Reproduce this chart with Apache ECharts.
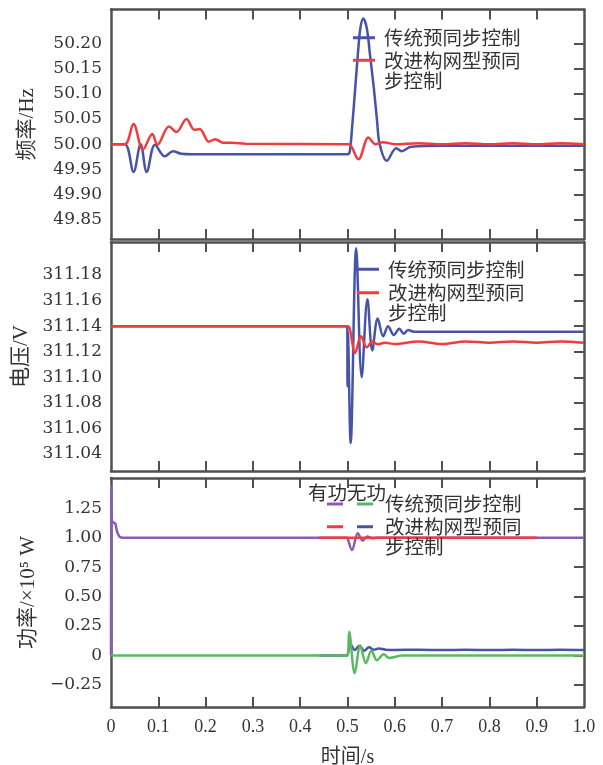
<!DOCTYPE html>
<html><head><meta charset="utf-8">
<script src="https://cdn.jsdelivr.net/npm/echarts@6/dist/echarts.min.js"></script>
<style>html,body{margin:0;padding:0;background:#fff}#c{width:603px;height:765px}</style>
</head><body><div id="c"></div>
<script>
// ---------- tick values / labels ----------
const xTickValues = [0.1, 0.2, 0.3, 0.4, 0.5, 0.6, 0.7, 0.8, 0.9];
const xLabelValues = [0, 0.1, 0.2, 0.3, 0.4, 0.5, 0.6, 0.7, 0.8, 0.9, 1.0];
const freqTicks = [49.85, 49.90, 49.95, 50.00, 50.05, 50.10, 50.15, 50.20];
const voltTicks = [311.04, 311.06, 311.08, 311.10, 311.12, 311.14, 311.16, 311.18];
const powerTicks = [-0.25, 0, 0.25, 0.50, 0.75, 1.00, 1.25];

// ---------- legend names ----------
const nameTrad = '传统预同步控制';
const nameImpr = '改进构网型预同步控制';
const nameP_Trad = '有功-传统预同步控制';
const nameQ_Trad = '无功-传统预同步控制';
const nameP_Impr = '有功-改进构网型预同步控制';
const nameQ_Impr = '无功-改进构网型预同步控制';

// ---------- frequency (Hz) ----------
const freqTradT = [0, 0.029, 0.0476, 0.0626, 0.0755, 0.093, 0.1138, 0.1312, 0.1486, 0.17, 0.5, 0.5047, 0.5096, 0.5163, 0.5218, 0.5272, 0.5333, 0.5408, 0.5476, 0.5557, 0.5626, 0.568, 0.583, 0.603, 0.6145, 0.6347, 0.7, 0.8, 0.9, 1.0];
const freqTradV = [50.00, 50.00, 49.945, 50.00, 49.945, 49.999, 49.976, 49.986, 49.981, 49.980, 49.980, 49.985, 50.032, 50.111, 50.177, 50.23, 50.249, 50.23, 50.177, 50.111, 50.045, 50.00, 49.967, 49.992, 49.986, 49.995, 49.997, 49.997, 49.997, 49.997];
const freqImprT = [0, 0.0293, 0.0476, 0.0674, 0.0874, 0.0983, 0.1226, 0.1382, 0.1597, 0.1761, 0.1875, 0.2067, 0.2205, 0.2366, 0.2566, 0.2848, 0.5, 0.5035, 0.5231, 0.5443, 0.5592, 0.575, 0.6, 0.65, 0.7, 0.75, 0.8, 0.85, 0.9, 0.95, 1.0];
const freqImprV = [50.00, 50.00, 50.040, 49.989, 50.020, 49.999, 50.035, 50.024, 50.050, 50.0285, 50.030, 50.005, 50.010, 50.003, 50.003, 50.001, 50.00, 50.00, 49.970, 50.013, 50.00, 50.004, 50.000, 50.002, 50.000, 50.002, 50.000, 50.002, 50.000, 50.002, 50.000];

// ---------- voltage (V) ----------
const voltTradT = [0, 0.4995, 0.5, 0.5008, 0.5067, 0.5184, 0.530, 0.5422, 0.5524, 0.5639, 0.5755, 0.5857, 0.598, 0.6094, 0.619, 0.628, 0.64, 0.7, 0.8, 0.9, 1.0];
const voltTradV = [311.14, 311.14, 311.093, 311.135, 311.0486, 311.201, 311.100, 311.161, 311.121, 311.146, 311.132, 311.140, 311.133, 311.138, 311.134, 311.137, 311.1357, 311.1357, 311.1357, 311.1357, 311.1357];
const voltImprT = [0, 0.5, 0.5047, 0.5163, 0.5286, 0.5408, 0.5524, 0.5639, 0.58, 0.6, 0.65, 0.7, 0.75, 0.8, 0.85, 0.9, 0.95, 1.0];
const voltImprV = [311.14, 311.14, 311.138, 311.119, 311.132, 311.1234, 311.128, 311.1258, 311.127, 311.126, 311.128, 311.126, 311.128, 311.127, 311.128, 311.127, 311.128, 311.127];

// ---------- power (x10^5 W) ----------
const pTradT = [0, 0.0005, 0.0015, 0.005, 0.009, 0.013, 0.018, 0.025, 0.5, 0.5014, 0.5096, 0.5218, 0.532, 0.542, 0.552, 0.565, 0.6, 1.0];
const pTradV = [0, 1.43, 1.15, 1.13, 1.12, 1.05, 1.01, 1.00, 1.00, 1.00, 0.896, 1.038, 0.975, 1.01, 0.995, 1.00, 1.00, 1.00];
const pImprT = [0.44, 0.5, 0.6, 0.7, 0.8, 0.9];
const pImprV = [1.00, 1.00, 1.00, 1.00, 1.00, 1.00];
const qTradT = [0, 0.5, 0.5035, 0.5153, 0.527, 0.5388, 0.5506, 0.5622, 0.5765, 0.5882, 0.6166, 1.0];
const qTradV = [0, 0, 0.202, -0.15, 0.085, -0.065, 0.04, -0.04, 0.01, -0.02, 0, 0];
const qImprT = [0.44, 0.5, 0.5014, 0.5067, 0.515, 0.5251, 0.5353, 0.5455, 0.5557, 0.566, 0.58, 0.6, 0.65, 0.7, 0.75, 0.8, 0.85, 0.9, 0.95, 1.0];
const qImprV = [0, 0, 0, 0.095, 0.047, 0.083, 0.04, 0.07, 0.05, 0.06, 0.05, 0.047, 0.049, 0.046, 0.049, 0.046, 0.049, 0.046, 0.049, 0.047];

// ---------- build ----------
const pairs = (t, v) => t.map((x, i) => [x, v[i]]);
const FRAME = '#505050';
const TXT = '#333';
const CJK = '"Noto Sans CJK SC"';
const NUMF = '"DejaVu Serif"';
const C_BLUE = '#4653a8', C_RED = '#f03c3c', C_PURPLE = '#8a5cb8', C_GREEN = '#5cb860';

const grids = [
  {left: 111, right: 19, top: 9.5, height: 229.5, outerBoundsMode: 'none', containLabel: false},
  {left: 111, right: 19, top: 242, height: 229, outerBoundsMode: 'none', containLabel: false},
  {left: 111, right: 19, top: 478, height: 229, outerBoundsMode: 'none', containLabel: false}
];

const xAxes = [];
for (let g = 0; g < 3; g++) {
  const common = {
    type: 'value', gridIndex: g, min: 0, max: 1, interval: 0.1,
    axisLine: {show: true, onZero: false, lineStyle: {color: FRAME, width: 2.5}},
    axisTick: {show: true, inside: true, length: 10, customValues: xTickValues, lineStyle: {color: FRAME, width: 2}},
    splitLine: {show: false}
  };
  xAxes.push(Object.assign({}, common, {
    position: 'bottom',
    axisLabel: {show: g === 2, customValues: xLabelValues, margin: 11,
      formatter: v => (Math.abs(v) < 1e-9 ? '0' : v.toFixed(1)),
      fontFamily: '"Liberation Serif"', fontSize: 18, color: TXT},
    name: g === 2 ? '时间/s' : '', nameLocation: 'middle', nameGap: 41,
    nameTextStyle: {fontFamily: '"Liberation Serif", ' + CJK, fontSize: 20, color: TXT}
  }));
  xAxes.push(Object.assign({}, common, {position: 'top', axisLabel: {show: false}}));
}

const yDefs = [
  {min: 49.812, max: 50.267, ticks: freqTicks, name: '频率/Hz', gap: 73, fmt: v => v.toFixed(2)},
  {min: 311.0267, max: 311.2058, ticks: voltTicks, name: '电压/V', gap: 74, fmt: v => v.toFixed(2)},
  {min: -0.437, max: 1.507, ticks: powerTicks, name: '功率/×10⁵ W', gap: 63,
    fmt: v => (Math.abs(v) < 1e-9 ? '0' : (v < 0 ? '\u2212' + Math.abs(v).toFixed(2) : v.toFixed(2)))}
];
const yAxes = [];
yDefs.forEach((d, g) => {
  const common = {
    type: 'value', gridIndex: g, min: d.min, max: d.max, scale: true,
    axisLine: {show: true, onZero: false, lineStyle: {color: FRAME, width: 2.5}},
    splitLine: {show: false}
  };
  yAxes.push(Object.assign({}, common, {
    position: 'left',
    axisTick: {show: false},
    axisLabel: {show: true, customValues: d.ticks, formatter: d.fmt, margin: 9,
      fontFamily: NUMF, fontSize: 17, color: TXT},
    name: d.name, nameLocation: 'middle', nameGap: d.gap, nameRotate: 90,
    nameTextStyle: {fontFamily: '"Liberation Serif", ' + CJK, fontSize: 21, color: TXT}
  }));
  yAxes.push(Object.assign({}, common, {
    position: 'right',
    axisTick: {show: true, inside: true, length: 10, customValues: d.ticks, lineStyle: {color: FRAME, width: 2}},
    axisLabel: {show: false}
  }));
});

function line(name, xi, yi, t, v, color, z) {
  return {
    type: 'line', name: name, xAxisIndex: xi, yAxisIndex: yi,
    data: pairs(t, v), showSymbol: false, symbol: 'none', smooth: 0.35,
    lineStyle: {width: 2.5, color: color}, itemStyle: {color: color}, z: z
  };
}

const series = [
  line(nameTrad, 0, 0, freqTradT, freqTradV, C_BLUE, 2),
  line(nameImpr, 0, 0, freqImprT, freqImprV, C_RED, 3),
  line(nameTrad, 2, 2, voltTradT, voltTradV, C_BLUE, 2),
  line(nameImpr, 2, 2, voltImprT, voltImprV, C_RED, 3),
  line(nameP_Trad, 4, 4, pTradT, pTradV, C_PURPLE, 2),
  line(nameP_Impr, 4, 4, pImprT, pImprV, C_RED, 3),
  line(nameQ_Impr, 4, 4, qImprT, qImprV, C_BLUE, 4),
  line(nameQ_Trad, 4, 4, qTradT, qTradV, C_GREEN, 5)
];

const legTextStyle = {fontFamily: CJK, fontSize: 19.5, color: TXT, lineHeight: 22.5, padding: [0, 0, 0, 4]};
const fmtMain = n => (n === nameImpr ? '改进构网型预同' : n);
const legends = [
  {orient: 'vertical', left: 353, top: 26.5, icon: 'rect', itemWidth: 22, itemHeight: 3, itemGap: 0, padding: 0,
    data: [nameTrad, nameImpr], formatter: fmtMain, textStyle: legTextStyle},
  {orient: 'vertical', left: 357, top: 258, icon: 'rect', itemWidth: 22, itemHeight: 3, itemGap: 1, padding: 0,
    data: [nameTrad, nameImpr], formatter: fmtMain, textStyle: legTextStyle},
  {orient: 'horizontal', left: 327, top: 492.75, icon: 'rect', itemWidth: 16, itemHeight: 3, itemGap: 2, padding: 0,
    data: [nameP_Trad, nameQ_Trad],
    formatter: n => (n === nameQ_Trad ? '传统预同步控制' : ''),
    textStyle: Object.assign({}, legTextStyle, {padding: [0, 0, 0, 7]})},
  {orient: 'horizontal', left: 327, top: 515.5, icon: 'rect', itemWidth: 16, itemHeight: 3, itemGap: 2, padding: 0,
    data: [nameP_Impr, nameQ_Impr],
    formatter: n => (n === nameQ_Impr ? '改进构网型预同' : ''),
    textStyle: Object.assign({}, legTextStyle, {padding: [0, 0, 0, 7]})}
];

const gText = (x, y, s) => ({type: 'text', x: x, y: y, z: 100,
  style: {text: s, fontFamily: CJK, fontSize: 19.5, fill: TXT, verticalAlign: 'middle', align: 'left'}});

const option = {
  animation: false,
  backgroundColor: '#ffffff',
  grid: grids,
  xAxis: xAxes,
  yAxis: yAxes,
  legend: legends,
  series: series,
  graphic: [
    gText(384, 81, '步控制'),
    gText(388, 313, '步控制'),
    gText(385, 547, '步控制'),
    gText(308, 493, '有功无功')
  ]
};

const chart = echarts.init(document.getElementById('c'), null, {renderer: 'canvas'});
chart.setOption(option);
</script></body></html>
